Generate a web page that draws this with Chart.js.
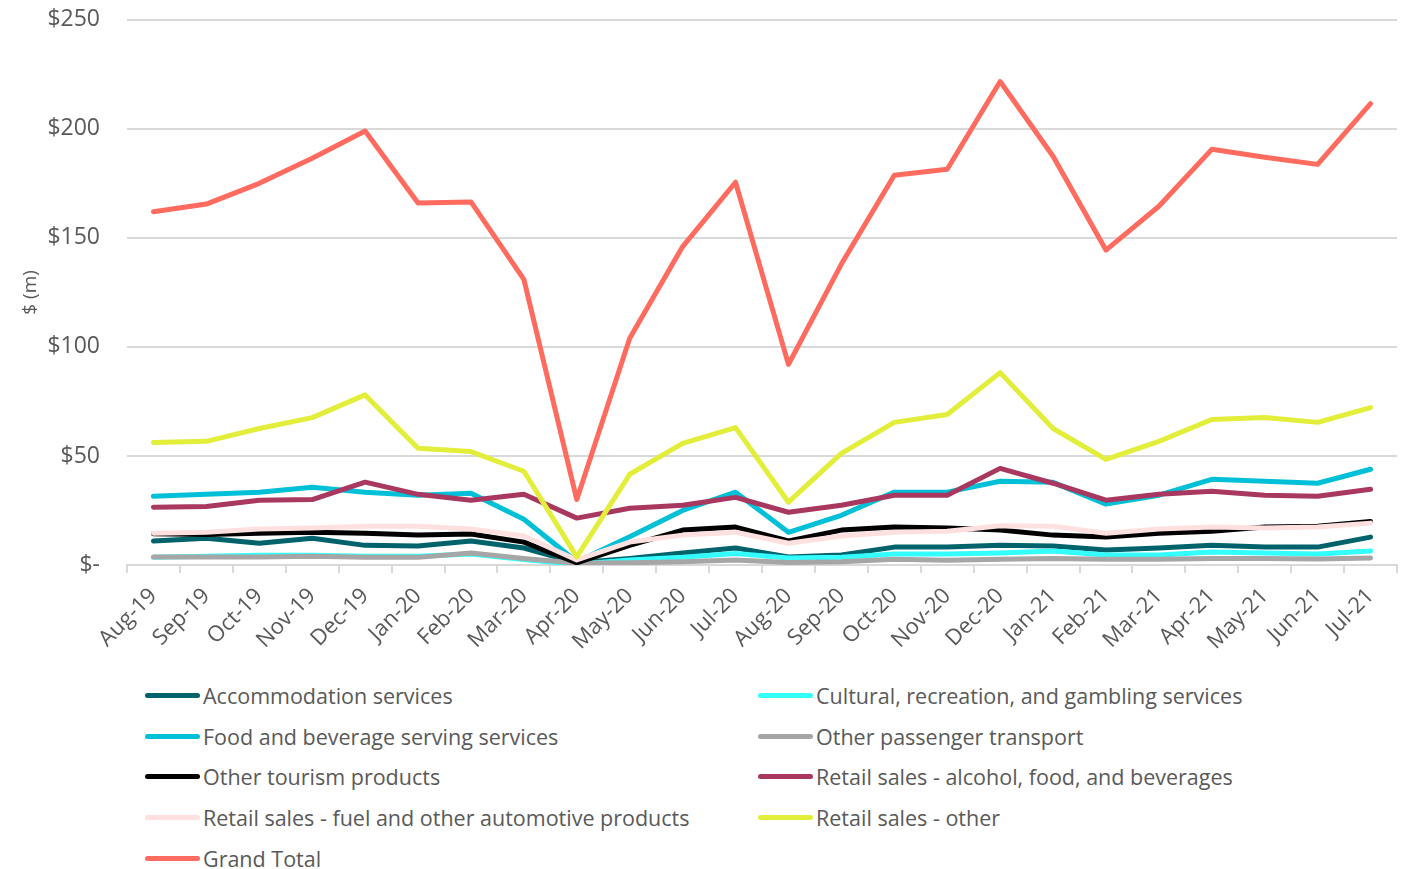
<!DOCTYPE html>
<html>
<head>
<meta charset="utf-8">
<script src="https://cdn.jsdelivr.net/npm/chart.js@4.4.1/dist/chart.umd.min.js"></script>
<style>
  html, body { margin: 0; padding: 0; background: #fff; overflow: hidden; }
  #wrap { position: relative; width: 1410px; height: 869px; overflow: hidden; }
  #chart { position: absolute; left: 0; top: -21px; }
  #legend {
    position: absolute; left: 145px; top: 675px; width: 1250px;
    display: grid; grid-template-columns: 613px 600px; row-gap: 0;
    font-family: "Open Sans", Arial, sans-serif; font-size: 21.5px; color: #595959;
  }
  .item { display: flex; align-items: center; height: 40.8px; white-space: nowrap; }
  .swatch { width: 55px; height: 5px; border-radius: 3px; margin-right: 3px; }
</style>
</head>
<body>
<div id="wrap">
  <canvas id="chart" width="1410" height="691"></canvas>
  <div id="legend"></div>
</div>
<script>
// Meses do eixo X
const meses = ['Aug-19','Sep-19','Oct-19','Nov-19','Dec-19','Jan-20','Feb-20','Mar-20','Apr-20','May-20','Jun-20','Jul-20',
  'Aug-20','Sep-20','Oct-20','Nov-20','Dec-20','Jan-21','Feb-21','Mar-21','Apr-21','May-21','Jun-21','Jul-21'];

// Séries ($ m)
const accommodation = [11, 12.3, 10, 12.3, 9, 8.7, 11, 7.8, 1, 3, 5.5, 7.8, 3.7, 4.6, 8.2, 8.2, 9, 8.7, 6.9, 7.8, 9.1, 8.2, 8.2, 12.8];
const cultural = [3.5, 4, 4.5, 4.5, 4, 4, 5, 2.5, 0.3, 2.3, 3.5, 5.3, 3.2, 3.5, 5, 5, 5.5, 6.4, 4.6, 4.6, 6, 5.5, 5, 6.4];
const food = [31.5, 32.4, 33.4, 35.6, 33.4, 32, 32.9, 21, 1.5, 13, 25, 33.4, 15, 22.8, 33.4, 33.4, 38.4, 37.9, 27.9, 32, 39.3, 38.4, 37.5, 43.9];
const passenger = [3.7, 3.7, 3.7, 4, 3.5, 3.5, 5.5, 3, 0.8, 1, 1.5, 2.3, 1.2, 1.5, 2.6, 2.2, 2.6, 3, 2.6, 2.6, 3, 3, 2.8, 3.2];
const otherTourism = [14.3, 14, 14.6, 15, 14.6, 13.7, 14.2, 10.5, 1, 9, 16, 17.4, 11, 16, 17.4, 17, 16, 13.7, 12.8, 14.6, 15.5, 17.4, 17.8, 20];
const retailAlcohol = [26.5, 26.8, 29.7, 30, 38, 32.4, 29.7, 32.4, 21.5, 26, 27.4, 31, 24.2, 27.4, 32, 32, 44.3, 37.5, 29.7, 32.4, 33.8, 32, 31.5, 34.7];
const retailFuel = [14.6, 15, 16.5, 17, 17.8, 17.8, 16.5, 13.3, 2.3, 10.5, 13.7, 15, 10, 13.3, 15, 15.5, 18, 17.8, 14.6, 16.5, 17.4, 17, 17.4, 19.2];
const retailOther = [56.2, 56.7, 62.6, 67.6, 78, 53.5, 52, 43, 3.7, 41.6, 55.8, 63, 28.8, 51.2, 65.4, 69, 88.2, 62.6, 48.4, 56.7, 66.7, 67.6, 65.4, 72.2];
const grandTotal = [162, 165.5, 175, 186.5, 199, 166, 166.5, 131, 30, 104, 146, 175.5, 92, 138, 178.7, 181.5, 221.7, 187.4, 144.4, 164.5, 190.6, 187, 183.7, 211.6];

const series = [
  { label: 'Accommodation services', data: accommodation, cor: '#00636B' },
  { label: 'Cultural, recreation, and gambling services', data: cultural, cor: '#33FFFF' },
  { label: 'Food and beverage serving services', data: food, cor: '#00C0D8' },
  { label: 'Other passenger transport', data: passenger, cor: '#A6A6A6' },
  { label: 'Other tourism products', data: otherTourism, cor: '#000000' },
  { label: 'Retail sales - alcohol, food, and beverages', data: retailAlcohol, cor: '#A8385F' },
  { label: 'Retail sales - fuel and other automotive products', data: retailFuel, cor: '#FFE0E0' },
  { label: 'Retail sales - other', data: retailOther, cor: '#E2EE3A' },
  { label: 'Grand Total', data: grandTotal, cor: '#FF6B5E' }
];

const fonte = '"Open Sans", Arial, sans-serif';
const cinza = '#595959';

new Chart(document.getElementById('chart'), {
  type: 'line',
  data: {
    labels: meses,
    datasets: series.map((s, i) => ({
      label: s.label,
      data: s.data,
      borderColor: s.cor,
      backgroundColor: s.cor,
      borderWidth: 5,
      pointRadius: 0,
      tension: 0,
      fill: false,
      borderCapStyle: 'round',
      borderJoinStyle: 'round',
      order: series.length - i
    }))
  },
  options: {
    responsive: false,
    animation: false,
    layout: { padding: { left: 15, right: 13, top: 8, bottom: 0 } },
    plugins: {
      legend: { display: false },
      tooltip: { enabled: false }
    },
    scales: {
      x: {
        offset: true,
        grid: { display: true, drawOnChartArea: false, drawTicks: true, tickLength: 8, offset: true, color: '#D9D9D9', lineWidth: 2 },
        border: { display: true, color: '#D9D9D9', width: 2 },
        ticks: { color: cinza, font: { family: fonte, size: 22 }, maxRotation: 45, minRotation: 45, autoSkip: false, padding: 10 },
        afterFit: s => { s.height = 105; }
      },
      y: {
        min: 0, max: 250,
        grid: { color: '#D9D9D9', lineWidth: 2, drawTicks: false },
        border: { display: false },
        ticks: {
          stepSize: 50, padding: 27, color: cinza, font: { family: fonte, size: 23 },
          callback: v => v === 0 ? '$-' : '$' + v
        },
        title: { display: true, text: '$ (m)', color: cinza, font: { family: fonte, size: 19 }, padding: { top: 4, bottom: 4 } },
        afterFit: s => { s.width = 112; }
      }
    }
  }
});

// Legenda em duas colunas
const legendaEl = document.getElementById('legend');
series.forEach(s => {
  const item = document.createElement('div');
  item.className = 'item';
  item.innerHTML = `<span class="swatch" style="background:${s.cor}"></span><span>${s.label}</span>`;
  legendaEl.appendChild(item);
});
</script>
</body>
</html>
